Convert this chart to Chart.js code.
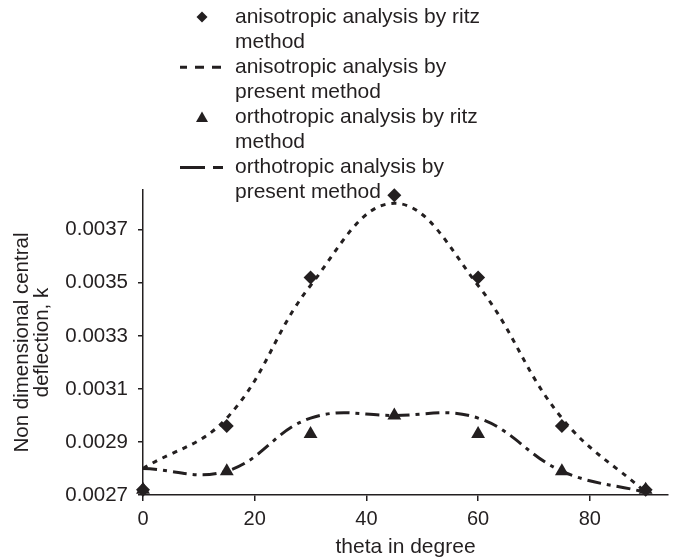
<!DOCTYPE html>
<html>
<head>
<meta charset="utf-8">
<script src="https://cdn.jsdelivr.net/npm/chart.js@4"></script>
<style>
  html, body { margin: 0; padding: 0; background: #fff; }
  #wrap { width: 677px; height: 560px; }
</style>
</head>
<body>
<div id="wrap"><canvas id="chart" width="677" height="560"></canvas></div>
<script>
// --- data ---
const thetaValues = [0, 15, 30, 45, 60, 75, 90];
const anisoRitz = [0.00272, 0.00296, 0.00352, 0.00383, 0.00352, 0.00296, 0.00272];
const anisoPresent = [0.0028, 0.00299, 0.00349, 0.0038, 0.00349, 0.00299, 0.00271];
const orthoRitz = [0.00272, 0.00279, 0.00293, 0.0030, 0.00293, 0.00279, 0.00272];
const orthoPresent = [0.0028, 0.00279, 0.00299, 0.0030, 0.00299, 0.00279, 0.00271];

const xTicks = [0, 20, 40, 60, 80];
const yTicks = [0.0027, 0.0029, 0.0031, 0.0033, 0.0035, 0.0037];

const legendLabels = [
  ['anisotropic analysis by ritz', 'method'],
  ['anisotropic analysis by', 'present method'],
  ['orthotropic analysis by ritz', 'method'],
  ['orthotropic analysis by', 'present method']
];

const INK = '#231f20';
const FONT = '"Liberation Sans", Arial, Helvetica, sans-serif';

function toPoints(ys) {
  return thetaValues.map((x, i) => ({ x: x, y: ys[i] }));
}

// legend drawn by hand so the labels can wrap on two lines
const legendPlugin = {
  id: 'wrappedLegend',
  afterDraw(chart) {
    const ctx = chart.ctx;
    const textX = 235, symX = 202, rowGap = 25.1, firstY = 17;
    ctx.save();
    ctx.font = '21px ' + FONT;
    ctx.textBaseline = 'middle';
    ctx.textAlign = 'left';
    legendLabels.forEach((lines, i) => {
      const y0 = firstY + rowGap * 2 * i;
      ctx.fillStyle = INK;
      lines.forEach((t, j) => ctx.fillText(t, textX, y0 + rowGap * j));

      ctx.strokeStyle = INK;
      ctx.lineWidth = 3;
      if (i === 0) {
        ctx.beginPath();
        ctx.moveTo(symX, y0 - 5.5); ctx.lineTo(symX + 5.5, y0);
        ctx.lineTo(symX, y0 + 5.5); ctx.lineTo(symX - 5.5, y0);
        ctx.closePath(); ctx.fill();
      } else if (i === 2) {
        ctx.beginPath();
        ctx.moveTo(symX, y0 - 6); ctx.lineTo(symX + 6, y0 + 4.5);
        ctx.lineTo(symX - 6, y0 + 4.5);
        ctx.closePath(); ctx.fill();
      } else {
        ctx.setLineDash(i === 1 ? [9, 8] : [25, 8, 10, 8]);
        ctx.lineDashOffset = i === 1 ? 2 : 0;
        ctx.beginPath();
        ctx.moveTo(180, y0); ctx.lineTo(223, y0);
        ctx.stroke();
        ctx.setLineDash([]);
      }
    });
    ctx.restore();
  }
};

new Chart(document.getElementById('chart'), {
  type: 'scatter',
  data: {
    datasets: [
      {
        label: 'anisotropic analysis by ritz method',
        data: toPoints(anisoRitz),
        showLine: false,
        pointStyle: 'rectRot',
        pointRadius: 7,
        backgroundColor: INK,
        borderColor: INK,
        borderWidth: 0,
        clip: false,
        order: 1
      },
      {
        label: 'anisotropic analysis by present method',
        data: toPoints(anisoPresent),
        showLine: true,
        tension: 0.4,
        pointRadius: 0,
        borderColor: INK,
        borderWidth: 3,
        borderDash: [5, 6],
        clip: false,
        order: 3
      },
      {
        label: 'orthotropic analysis by ritz method',
        data: toPoints(orthoRitz),
        showLine: false,
        pointStyle: 'triangle',
        pointRadius: 8,
        backgroundColor: INK,
        borderColor: INK,
        borderWidth: 0,
        clip: false,
        order: 2
      },
      {
        label: 'orthotropic analysis by present method',
        data: toPoints(orthoPresent),
        showLine: true,
        tension: 0.4,
        pointRadius: 0,
        borderColor: INK,
        borderWidth: 3,
        borderDash: [14, 6, 4, 6],
        clip: false,
        order: 4
      }
    ]
  },
  options: {
    responsive: false,
    animation: false,
    layout: { padding: { top: 190, right: 9, left: 0, bottom: 0 } },
    plugins: {
      legend: { display: false },
      tooltip: { enabled: false }
    },
    scales: {
      x: {
        type: 'linear',
        min: 0,
        max: 94,
        afterBuildTicks: s => { s.ticks = xTicks.map(v => ({ value: v })); },
        afterFit: s => { s.height = 65; },
        grid: { drawOnChartArea: false, tickLength: 6, color: INK, lineWidth: 1.5 },
        border: { color: INK, width: 1.5 },
        ticks: { color: INK, font: { family: FONT, size: 20 }, padding: 6, maxRotation: 0, autoSkip: false },
        title: { display: true, text: 'theta in degree', color: INK, font: { family: FONT, size: 21, lineHeight: 1.2 }, padding: 0 }
      },
      y: {
        type: 'linear',
        min: 0.0027,
        max: 0.00385,
        afterBuildTicks: s => { s.ticks = yTicks.map(v => ({ value: v })); },
        afterFit: s => { s.width = 143; },
        grid: { drawOnChartArea: false, tickLength: 5, color: INK, lineWidth: 1.5 },
        border: { color: INK, width: 1.5 },
        ticks: { color: INK, font: { family: FONT, size: 20.5 }, padding: 10, callback: v => v.toFixed(4) },
        title: {
          display: true,
          text: ['Non dimensional central', 'deflection, k'],
          color: INK,
          font: { family: FONT, size: 20.5, lineHeight: 1.0 },
          padding: { top: 12, bottom: 0 }
        }
      }
    }
  },
  plugins: [legendPlugin]
});
</script>
</body>
</html>
